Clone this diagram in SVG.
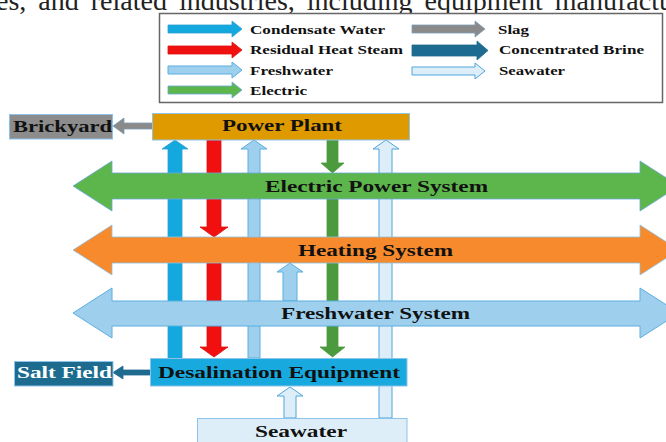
<svg xmlns="http://www.w3.org/2000/svg" width="666" height="442" viewBox="0 0 666 442">
<style>
  .lbl { font-family: "Liberation Serif", "Times New Roman", serif; font-weight: bold; fill: #111; }
  .leg { font-size: 13.5px; }
  .main { font-size: 16px; }
  .body { font-family: "Liberation Serif", "Times New Roman", serif; font-size: 28px; fill: #222; word-spacing: 5px; }
  .cond { fill: #14a9de; stroke: #2a9fd0; stroke-width: 0.8; }
  .red { fill: #f01010; stroke: #e01010; stroke-width: 0.8; }
  .fresh { fill: #9ed0ee; stroke: #5aaee0; stroke-width: 1; }
  .elec { fill: #5db64c; stroke: #6aa6d8; stroke-width: 0.8; }
  .elecv { fill: #4c9a3e; stroke: #4c9a3e; stroke-width: 0.8; }
  .heat { fill: #f78a2c; stroke: #8cc0e6; stroke-width: 0.8; }
  .slag { fill: #8a8a8a; stroke: #7a9cb8; stroke-width: 0.8; }
  .brine { fill: #1e6b90; stroke: #1e6b90; stroke-width: 0.8; }
  .sea { fill: #ddeef9; stroke: #4fa6dc; stroke-width: 1; }
  .box { stroke: #8cc3e8; stroke-width: 1; }
</style>

<text class="body" x="-4" y="10">es, and related industries, including equipment manufactur</text>

<g id="legend">
  <rect x="159.5" y="13.5" width="503" height="89" fill="#fff" stroke="#666" stroke-width="1.5"/>
  <path class="cond" d="M168,25 L232,25 L232,21 L242,29 L232,37 L232,33 L168,33 Z"/>
  <text class="lbl leg" x="250" y="34" textLength="135" lengthAdjust="spacingAndGlyphs">Condensate Water</text>
  <path class="red" d="M168,46 L232,46 L232,42 L242,50 L232,58 L232,54 L168,54 Z"/>
  <text class="lbl leg" x="250" y="54" textLength="153" lengthAdjust="spacingAndGlyphs">Residual Heat Steam</text>
  <path class="fresh" d="M168,66 L232,66 L232,62 L242,70 L232,78 L232,74 L168,74 Z"/>
  <text class="lbl leg" x="250" y="75" textLength="83" lengthAdjust="spacingAndGlyphs">Freshwater</text>
  <path class="elec" d="M168,86 L232,86 L232,82 L242,90 L232,98 L232,94 L168,94 Z"/>
  <text class="lbl leg" x="250" y="95" textLength="57" lengthAdjust="spacingAndGlyphs">Electric</text>
  <path class="slag" d="M412,25 L475,25 L475,21 L485,29 L475,37 L475,33 L412,33 Z"/>
  <text class="lbl leg" x="498" y="34" textLength="31" lengthAdjust="spacingAndGlyphs">Slag</text>
  <path class="brine" d="M412,45 L477,45 L477,41 L488,50.5 L477,60 L477,56 L412,56 Z"/>
  <text class="lbl leg" x="499" y="54" textLength="145" lengthAdjust="spacingAndGlyphs">Concentrated Brine</text>
  <path class="sea" d="M412,67 L475,67 L475,63 L485,71 L475,79 L475,75 L412,75 Z"/>
  <text class="lbl leg" x="499" y="75" textLength="66" lengthAdjust="spacingAndGlyphs">Seawater</text>
</g>

<g id="connectors">
  <path class="cond" d="M175,140 L188,149 L182,149 L182,358 L168,358 L168,149 L162,149 Z"/>
  <path class="red" d="M207,140 L221,140 L221,227 L228,227 L214,237 L200,227 L207,227 Z"/>
  <path class="red" d="M207,263 L221,263 L221,347 L228,347 L214,357 L200,347 L207,347 Z"/>
  <path class="fresh" d="M254,140 L267,149 L260,149 L260,358 L248,358 L248,149 L241,149 Z"/>
  <path class="fresh" d="M290,263 L303,272 L297,272 L297,301 L283,301 L283,272 L277,272 Z"/>
  <path class="elecv" d="M327,140 L338,140 L338,163 L344,163 L332.5,173 L321,163 L327,163 Z"/>
  <path class="elecv" d="M327,199 L338,199 L338,347 L345,347 L332.5,357 L320,347 L327,347 Z"/>
  <path class="sea" d="M386,140 L399,149 L392,149 L392,418 L379,418 L379,149 L373,149 Z"/>
  <path class="sea" d="M290,387 L303,396 L296,396 L296,418 L284,418 L284,396 L277,396 Z"/>
  <path class="slag" d="M153,123 L124,123 L124,118 L113,126 L124,134 L124,129 L153,129 Z"/>
  <path class="brine" d="M150,370 L123,370 L123,366 L113,372.5 L123,379 L123,375 L150,375 Z"/>
</g>

<g id="electric-power-system">
  <path class="elec" d="M73,186 L112,161 L112,173 L640,173 L640,161 L679,186 L640,211 L640,199 L112,199 L112,211 Z"/>
  <text class="lbl main" x="265" y="192" textLength="223" lengthAdjust="spacingAndGlyphs">Electric Power System</text>
</g>
<g id="heating-system">
  <path class="heat" d="M73,250 L112,225 L112,237 L640,237 L640,225 L679,250 L640,275 L640,263 L112,263 L112,275 Z"/>
  <text class="lbl main" x="298" y="256" textLength="155" lengthAdjust="spacingAndGlyphs">Heating System</text>
</g>
<g id="freshwater-system">
  <path class="fresh" d="M73,313 L112,288 L112,301 L640,301 L640,288 L679,313 L640,338 L640,326 L112,326 L112,338 Z"/>
  <text class="lbl main" x="281" y="319" textLength="189" lengthAdjust="spacingAndGlyphs">Freshwater System</text>
</g>

<g id="power-plant">
  <rect class="box" x="152.5" y="113.5" width="257" height="26.5" fill="#df9a00"/>
  <text class="lbl main" x="222" y="131" textLength="120" lengthAdjust="spacingAndGlyphs">Power Plant</text>
</g>
<g id="brickyard">
  <rect class="box" x="9.5" y="114.5" width="103" height="24.5" fill="#8c8c8c"/>
  <text class="lbl main" x="13" y="132" textLength="99" lengthAdjust="spacingAndGlyphs">Brickyard</text>
</g>
<g id="desalination-equipment">
  <rect class="box" x="150.5" y="358.5" width="256.5" height="27.5" fill="#18aadf"/>
  <text class="lbl main" x="158" y="378" textLength="242" lengthAdjust="spacingAndGlyphs">Desalination Equipment</text>
</g>
<g id="salt-field">
  <rect class="box" x="14.5" y="361.5" width="98.5" height="24.5" fill="#1d6b8f"/>
  <text class="lbl main" x="17" y="378" textLength="95" lengthAdjust="spacingAndGlyphs" style="fill:#fff">Salt Field</text>
</g>
<g id="seawater">
  <rect class="box" x="197.5" y="418.5" width="209.5" height="30" fill="#deeef9" stroke="#6ab0dd"/>
  <text class="lbl main" x="255" y="437" textLength="92" lengthAdjust="spacingAndGlyphs">Seawater</text>
</g>
</svg>
